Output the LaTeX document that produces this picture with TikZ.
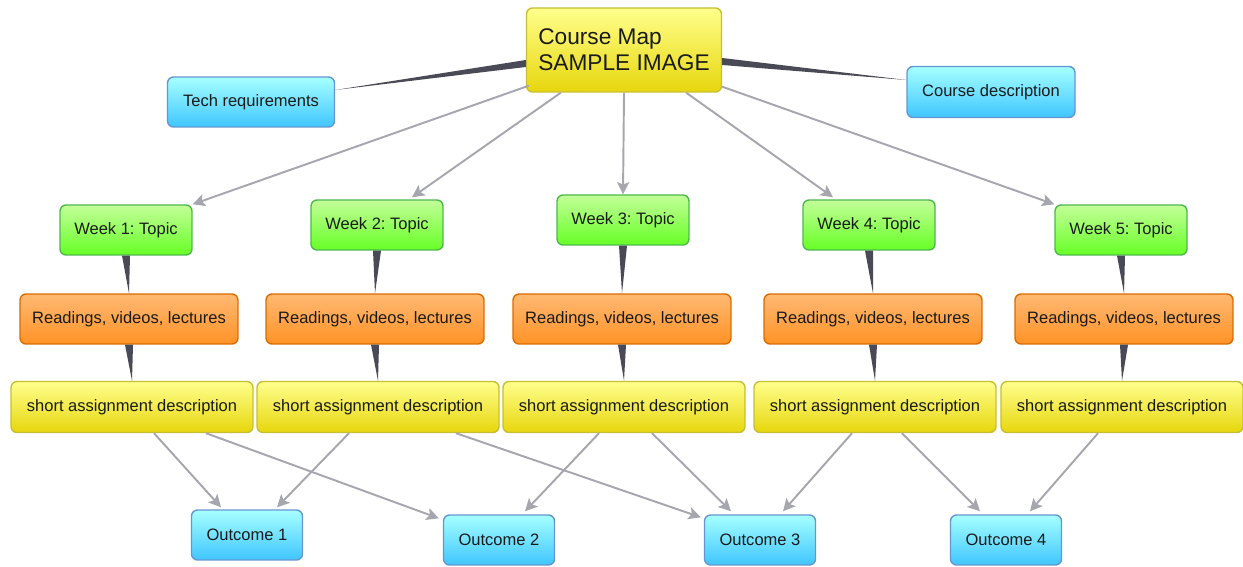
\documentclass[tikz,border=0pt]{standalone}
\usepackage{fontspec}
\setmainfont{Liberation Sans}
\frenchspacing
\usetikzlibrary{arrows.meta}

\definecolor{boxtext}{HTML}{1A1A1A}
\definecolor{linkgray}{HTML}{A6A6AE}
\definecolor{taperdark}{HTML}{4A4A56}

\tikzset{
	mapbox/.style={draw, rounded corners=0.12cm, line width=0.8pt, text=boxtext,
		font=\fontsize{9.4}{11}\selectfont, inner sep=2pt},
	bluebox/.style={mapbox, draw=blue!55!cyan!70!black!60, top color=cyan!35!white, bottom color=cyan!70!blue!75},
	weekbox/.style={mapbox, draw=green!60!black!70, top color=green!45!lime!40!white, bottom color=green!60!lime!85,
		minimum width=2.64cm, minimum height=1cm},
	readbox/.style={mapbox, draw=orange!85!black, top color=orange!55!white, bottom color=orange!85,
		minimum width=4.36cm, minimum height=1cm},
	taskbox/.style={mapbox, draw=yellow!75!black, top color=yellow!45!white, bottom color=yellow!85!orange!90!black!95,
		minimum width=4.84cm, minimum height=1.02cm},
	outbox/.style={bluebox, minimum width=2.22cm, minimum height=1cm},
	link/.style={draw=linkgray, line width=1.1pt, -{Stealth[length=7pt, width=7pt, inset=1.5pt]}},
	taper/.style={fill=taperdark},
}

\begin{document}
\begin{tikzpicture}[x=0.02cm, y=-0.02cm]
	% one unit is one pixel of the 1243 x 567 layout, y running down
	\useasboundingbox (0,0) rectangle (1243,567);
	
	% --- top row ---
	\node[taskbox, minimum width=3.9cm, minimum height=1.68cm, align=left,
		font=\fontsize{12.9}{14.8}\selectfont] (coursemap) at (624,50) {Course Map\\SAMPLE IMAGE};
	\node[bluebox, minimum width=3.34cm, minimum height=1cm] (techreq) at (251,102) {Tech requirements};
	\node[bluebox, minimum width=3.36cm, minimum height=1.02cm] (coursedesc) at (991,92) {Course description};
	
	% tapered links to the side boxes
	\fill[taper] ([shift={(0,10)}]coursemap.west) -- ([shift={(0,17)}]coursemap.west) -- ([shift={(0,-12)}]techreq.east) -- cycle;
	\fill[taper] ([shift={(0,8)}]coursemap.east) -- ([shift={(0,15)}]coursemap.east) -- ([shift={(0,-12)}]coursedesc.west) -- cycle;
	
	% --- one column per week ---
	% \i : week, \wx/\wy : topic box, \rx : readings box, \sx : assignment box
	\foreach \i/\wx/\wy/\rx/\sx in {1/126/230/129/132, 2/377/225/375/378, 3/623/220/622/624,
		4/869/225/873/875, 5/1121/230/1124/1122} {
		\node[weekbox] (week\i) at (\wx,\wy) {Week \i: Topic};
		\node[readbox] (read\i) at (\rx,319) {Readings, videos, lectures};
		\node[taskbox] (task\i) at (\sx,407) {short assignment description};
		% tapered links down the column
		\fill[taper] ([shift={(-4,0)}]week\i.south) -- ([shift={(4,0)}]week\i.south) -- (read\i.north) -- cycle;
		\fill[taper] ([shift={(-4,0)}]read\i.south) -- ([shift={(4,0)}]read\i.south) -- (task\i.north) -- cycle;
	}
	
	% --- outcomes ---
	\node[outbox] (out1) at (247,535) {Outcome 1};
	\node[outbox] (out2) at (499,540) {Outcome 2};
	\node[outbox] (out3) at (760,540) {Outcome 3};
	\node[outbox] (out4) at (1006,540) {Outcome 4};
	
	% course map to the weeks
	\draw[link] ([shift={(3,-7)}]coursemap.south west) -- (week1.north east);
	\draw[link] ([shift={(35,0)}]coursemap.south west) -- ([shift={(35,-2)}]week2.north);
	\draw[link] (coursemap.south) -- (week3.north);
	\draw[link] ([shift={(-36,0)}]coursemap.south east) -- ([shift={(-36,-2)}]week4.north);
	\draw[link] ([shift={(0,-6)}]coursemap.south east) -- (week5.north west);
	
	% assignments to outcomes
	\draw[link] ([shift={(22,0)}]task1.south) -- ([shift={(-26,-2)}]out1.north);
	\draw[link] ([shift={(74,0)}]task1.south) -- ([shift={(-4,4)}]out2.north west);
	\draw[link] ([shift={(-29,0)}]task2.south) -- ([shift={(30,-2)}]out1.north);
	\draw[link] ([shift={(78,0)}]task2.south) -- ([shift={(-3,3)}]out3.north west);
	\draw[link] ([shift={(-25,0)}]task3.south) -- ([shift={(26,-3)}]out2.north);
	\draw[link] ([shift={(28,0)}]task3.south) -- ([shift={(-29,-3)}]out3.north);
	\draw[link] ([shift={(-23,0)}]task4.south) -- ([shift={(23,-3)}]out3.north);
	\draw[link] ([shift={(27,0)}]task4.south) -- ([shift={(-26,-3)}]out4.north);
	\draw[link] ([shift={(-24,0)}]task5.south) -- ([shift={(24,-3)}]out4.north);
	
\end{tikzpicture}
\end{document}
